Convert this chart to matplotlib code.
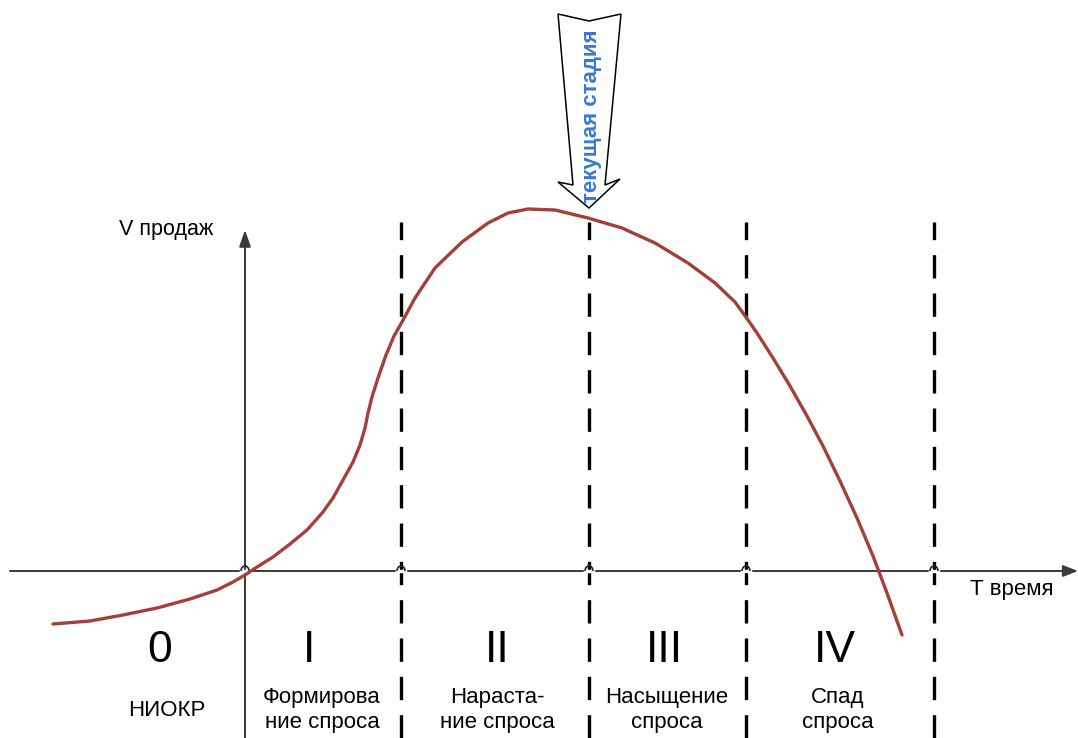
import matplotlib
matplotlib.use("Agg")
import matplotlib.pyplot as plt
from matplotlib.patches import Polygon, Arc

plt.rcParams['font.family'] = ['Liberation Sans', 'DejaVu Sans']

# Sales-volume life-cycle curve (time, volume); axes cross at (0, 0)
curve_t = [-192, -155, -122, -88, -55, -28, -12, 0, 12, 28, 45, 62, 78, 88,
           98, 108, 115, 120, 123, 127, 133, 141, 149, 157, 170, 190, 217,
           243, 263, 283, 310, 343, 377, 410, 443, 470, 490, 503, 512, 528,
           545, 562, 578, 595, 612, 628, 642, 657]
curve_v = [-53, -50, -44, -37, -28, -19, -11, -4, 4, 14, 27, 41, 59, 73,
           91, 109, 126, 143, 158, 174, 193, 216, 235, 249, 273, 303, 329,
           348, 358, 362, 361, 353, 343, 328, 308, 288, 269, 251, 238, 213,
           185, 155, 125, 90, 53, 15, -22, -64]

# Stage boundaries along the time axis
stage_bounds = [156, 344, 501, 689]

# Stage numerals and names
stage_nums = ["0", "I", "II", "III", "IV"]
stage_num_t = [-85, 64, 252, 419, 590]
stage_names = ["НИОКР", "Формирова\nние спроса", "Нараста-\nние спроса",
               "Насыщение\nспроса", "Спад\nспроса"]
stage_name_t = [-78, 77, 252, 422, 593]

# Marker for the current stage
current_label = "текущая стадия"
current_t = 344

W, H = 1078, 738
fig = plt.figure(figsize=(W / 100, H / 100), dpi=100)
ax = fig.add_axes([0, 0, 1, 1])
ax.set_xlim(-245, W - 245)
ax.set_ylim(571 - H, 571)
ax.axis('off')

# Axes with arrowheads
ax.annotate("", xy=(W - 245, 0), xytext=(-235, 0),
            arrowprops=dict(arrowstyle="-|>,head_length=0.9,head_width=0.35",
                            color="#3a3a3a", lw=1.4, shrinkA=0, shrinkB=0))
ax.annotate("", xy=(0, 341), xytext=(0, 571 - H),
            arrowprops=dict(arrowstyle="-|>,head_length=1.0,head_width=0.35",
                            color="#3a3a3a", lw=1.4, shrinkA=0, shrinkB=0))

# Line hops where verticals cross the time axis
for t in [0] + stage_bounds:
    ax.plot([t - 4, t + 4], [0, 0], color="white", lw=2.5, zorder=3)
    ax.add_patch(Arc((t, 0), 8, 10, theta1=0, theta2=180, color="#222222",
                     lw=1.2, zorder=4))

# Dashed stage boundaries
for t in stage_bounds:
    ax.plot([t, t], [571 - H, 349], color="black", lw=2.4,
            dashes=(7, 4.5), zorder=2)

# Life-cycle curve
ax.plot(curve_t, curve_v, color="#a3403a", lw=2.4, solid_capstyle="round",
        solid_joinstyle="round", zorder=5)

# Block arrow pointing at the current stage
arrow_xy = [(current_t - 31, 557), (current_t, 550), (current_t + 32, 557),
            (current_t + 16, 386), (current_t + 31, 392), (current_t, 363),
            (current_t - 31, 389), (current_t - 16, 386)]
ax.add_patch(Polygon(arrow_xy, closed=True, facecolor="white",
                     edgecolor="black", lw=1.1, zorder=6))
ax.text(current_t + 2, 455, current_label, rotation=90, ha="center",
        va="center", color="#3a78d6", fontsize=16, fontweight="bold", zorder=7)

# Axis captions
ax.text(-79, 342, "V продаж", ha="center", va="center", fontsize=15.5)
ax.text(767, -19, "Т время", ha="center", va="center", fontsize=16)

# Stage numerals and names
for t, s in zip(stage_num_t, stage_nums):
    ax.text(t, -79, s, ha="center", va="center", fontsize=32)
for t, s in zip(stage_name_t, stage_names):
    ax.text(t, -139, s, ha="center", va="center", fontsize=16,
            linespacing=1.28)

fig.savefig("out.png", dpi=100)
